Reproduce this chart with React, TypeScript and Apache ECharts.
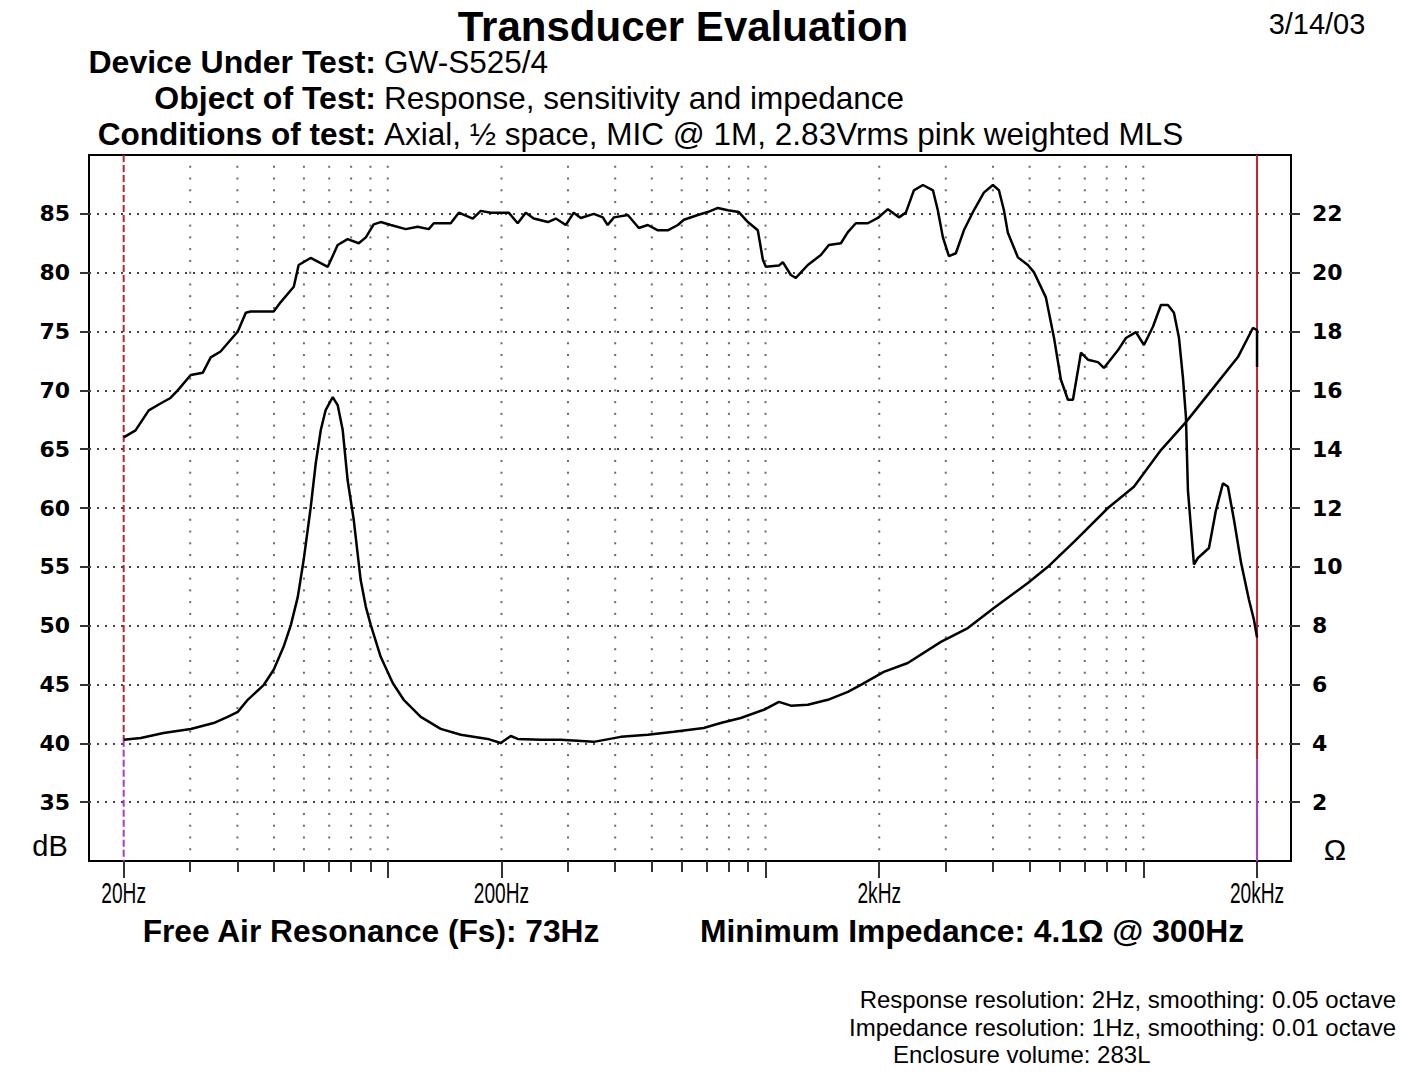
import React, { useEffect, useRef } from "react";
import * as echarts from "echarts";

// ---------- data ----------
const respFreq = [
  20, 21.5, 23.3, 25.1, 26.6, 27.8, 30.1, 32.4, 34.0, 36.1,
  37.7, 40.1, 42.1, 43.4, 49.9, 52.1, 56.4, 58.1, 62.5, 69.4,
  73.7, 78.3, 83.8, 87.5, 91.8, 95.8, 101.9, 111.6, 120, 128.4,
  132.4, 146.8, 154.2, 167.9, 176.3, 187.4, 209, 220.8, 231.9, 243.5,
  265.4, 278.6, 296, 310.8, 324.4, 351, 371, 382, 397, 432,
  462, 488, 519, 551, 586, 608, 662, 703, 748, 795,
  850, 898, 954, 984, 1002, 1085, 1111, 1167, 1203, 1294,
  1401, 1471, 1583, 1652, 1734, 1866, 1983, 2108, 2254, 2352,
  2470, 2610, 2774, 2858, 2948, 3058, 3190, 3350, 3560, 3784,
  3998, 4148, 4276, 4380, 4656, 4948, 5132, 5522, 5800, 6052,
  6316, 6512, 6838, 7136, 7584, 7866, 8566, 8996, 9560, 10038,
  10604, 11134, 11618, 12052, 12424, 12730, 12966, 13126, 13616, 13950,
  14920, 15570, 16248, 16752, 17376, 18132, 19038, 19626, 20000,
];
const respDb = [
  66.0, 66.6, 68.3, 68.9, 69.35, 70.0, 71.3, 71.5, 72.8, 73.3,
  74.0, 75.0, 76.6, 76.7, 76.7, 77.5, 78.8, 80.65, 81.25, 80.5,
  82.35, 82.85, 82.5, 83.0, 84.1, 84.3, 84.05, 83.7, 83.9, 83.7,
  84.2, 84.2, 85.1, 84.6, 85.25, 85.1, 85.1, 84.2, 85.1, 84.6,
  84.3, 84.6, 84.05, 85.1, 84.65, 85.0, 84.7, 84.05, 84.7, 84.9,
  83.8, 84.05, 83.6, 83.6, 84.05, 84.5, 84.9, 85.15, 85.5, 85.3,
  85.15, 84.3, 83.6, 81.1, 80.5, 80.6, 80.9, 79.8, 79.55, 80.65,
  81.5, 82.35, 82.5, 83.45, 84.2, 84.2, 84.65, 85.4, 84.7, 85.1,
  87.0, 87.45, 87.0, 85.3, 83.0, 81.4, 81.65, 83.6, 85.3, 86.8,
  87.45, 87.0, 85.3, 83.4, 81.3, 80.65, 80.05, 77.9, 74.5, 70.9,
  69.2, 69.2, 73.2, 72.6, 72.4, 71.9, 73.4, 74.45, 74.95, 73.85,
  75.4, 77.25, 77.25, 76.6, 74.5, 71.1, 67.75, 61.5, 55.2, 55.75,
  56.6, 59.8, 62.1, 61.8, 59.0, 55.4, 52.2, 50.5, 49.0,
];
const impFreq = [
  20, 22.2, 25.5, 30.1, 34.6, 37.7, 40.1, 42.6, 47.0, 49.9,
  53.0, 55.4, 57.8, 59.9, 62.5, 64.5, 66.5, 68.5, 71.5, 73.7,
  76.0, 78.3, 81.3, 84.8, 87.5, 90.2, 95.8, 103.1, 110.2, 122.3,
  138.1, 156.1, 183.9, 199.1, 211.7, 220.8, 254.2, 287, 351, 414,
  488, 572, 686, 761, 860, 990, 1085, 1167, 1294, 1462,
  1652, 1788, 2056, 2380, 2912, 3432, 4022, 4948, 5590, 6552,
  8060, 9444, 11134, 12966, 15378, 17802, 19504, 20000, 20000,
];
const impOhm = [
  4.12, 4.18, 4.35, 4.49, 4.69, 4.9, 5.07, 5.48, 5.99, 6.5,
  7.28, 8.02, 8.98, 10.23, 12.0, 13.53, 14.65, 15.33, 15.77, 15.5,
  14.65, 12.95, 11.59, 9.55, 8.64, 8.02, 6.94, 6.05, 5.48, 4.9,
  4.49, 4.29, 4.15, 4.01, 4.25, 4.15, 4.12, 4.12, 4.05, 4.22,
  4.29, 4.39, 4.52, 4.69, 4.86, 5.14, 5.41, 5.28, 5.31, 5.48,
  5.75, 5.99, 6.43, 6.73, 7.45, 7.92, 8.6, 9.45, 10.0, 10.85,
  12.0, 12.72, 13.97, 14.92, 16.11, 17.13, 18.12, 18.05, 16.79,
];

const gridFreqs = [
  30, 40, 50, 60, 70, 80, 90, 100,
  200, 300, 400, 500, 600, 700, 800, 900, 1000,
  2000, 3000, 4000, 5000, 6000, 7000, 8000, 9000, 10000,
];
const majorTickFreqs = [20, 100, 200, 1000, 2000, 10000, 20000];
const labelFreqs = [20, 200, 2000, 20000];
const freqLabels = ["20Hz", "200Hz", "2kHz", "20kHz"];
const dbTicks = [35, 40, 45, 50, 55, 60, 65, 70, 75, 80, 85];
const ohmTicks = [2, 4, 6, 8, 10, 12, 14, 16, 18, 20, 22];
const markerFreqs = [20, 20000];
const markerSplitDb = [40.3, 38.6];

// axis extents (frequency range of the plot frame, dB and ohm ranges)
const F_MIN = 16.19;
const F_MAX = 24600;
const DB_MIN = 30;
const DB_MAX = 90;
const OHM_MIN = 0;
const OHM_MAX = 24;

const L = (f: number) => Math.log10(f);

const SANS = '"Liberation Sans", Arial, Helvetica, sans-serif';
const WIDE = '"DejaVu Sans", Verdana, sans-serif';

function txt(
  t: string,
  x: number,
  y: number,
  size: number,
  weight: string,
  align: string,
  extra: any = {}
) {
  return {
    type: "text",
    x,
    y,
    silent: true,
    ...extra,
    style: {
      text: t,
      fill: "#000",
      fontSize: size,
      fontWeight: weight,
      fontFamily: SANS,
      textAlign: align,
      textVerticalAlign: "middle",
      verticalAlign: "middle",
    },
  };
}

export default function App() {
  const ref = useRef<HTMLDivElement>(null);

  useEffect(() => {
    document.body.style.margin = "0";
    if (!ref.current) return;
    const chart = echarts.init(ref.current, undefined, { renderer: "svg" });

    const minorTickFreqs = gridFreqs.filter((f) => !majorTickFreqs.includes(f));

    const dots: number[][] = [];
    gridFreqs.forEach((f) => {
      for (let d = DB_MIN + 1; d < DB_MAX; d++) {
        dots.push([L(f), d]);
      }
    });

    const markerSeries: any[] = [];
    markerFreqs.forEach((f, i) => {
      const dashed = i === 0;
      markerSeries.push({
        type: "line",
        xAxisIndex: 0,
        yAxisIndex: 0,
        silent: true,
        showSymbol: false,
        data: [
          [L(f), DB_MAX],
          [L(f), markerSplitDb[i]],
        ],
        lineStyle: { color: "#c0242c", width: 2, type: dashed ? [7, 3] : "solid" },
        z: 3,
      });
      markerSeries.push({
        type: "line",
        xAxisIndex: 0,
        yAxisIndex: 0,
        silent: true,
        showSymbol: false,
        data: [
          [L(f), markerSplitDb[i]],
          [L(f), DB_MIN],
        ],
        lineStyle: { color: "#a63cc8", width: 2, type: dashed ? [7, 3] : "solid" },
        z: 3,
      });
    });

    const baseGraphics: any[] = [
      txt("Transducer Evaluation", 683, 26, 42, "bold", "center"),
      txt("3/14/03", 1317, 24, 29, "normal", "center"),
      txt("Device Under Test:", 376, 62, 32, "bold", "right"),
      txt("GW-S525/4", 384, 62, 31.5, "normal", "left"),
      txt("Object of Test:", 376, 98, 32, "bold", "right"),
      txt("Response, sensitivity and impedance", 384, 98, 31.5, "normal", "left"),
      txt("Conditions of test:", 376, 134, 31.5, "bold", "right"),
      txt("Axial, ½ space, MIC @ 1M, 2.83Vrms pink weighted MLS", 384, 134, 31.5, "normal", "left"),
      txt("dB", 50, 846, 29, "normal", "center"),
      txt("Ω", 1335, 849, 30, "normal", "center"),
      txt("Free Air Resonance (Fs): 73Hz", 371, 931, 31.7, "bold", "center"),
      txt("Minimum Impedance: 4.1Ω @ 300Hz", 972, 931, 31.8, "bold", "center"),
      txt("Response resolution: 2Hz, smoothing: 0.05 octave", 1396, 999, 24, "normal", "right"),
      txt("Impedance resolution: 1Hz, smoothing: 0.01 octave", 1396, 1027, 24, "normal", "right"),
      txt("Enclosure volume: 283L", 893, 1054, 24, "normal", "left"),
    ];

    const option: any = {
      animation: false,
      backgroundColor: "#ffffff",
      grid: {
        left: 89,
        top: 155,
        width: 1202,
        height: 706,
        show: true,
        backgroundColor: "#ffffff",
        borderColor: "#000000",
        borderWidth: 2,
        containLabel: false,
        outerBoundsMode: "none",
      },
      xAxis: [
        {
          type: "value",
          position: "bottom",
          min: L(F_MIN),
          max: L(F_MAX),
          axisLine: { show: false },
          splitLine: { show: false },
          axisTick: {
            show: true,
            customValues: majorTickFreqs.map(L),
            length: 17,
            lineStyle: { color: "#333", width: 2 },
          },
          axisLabel: { show: false },
        },
        {
          type: "value",
          position: "bottom",
          min: L(F_MIN),
          max: L(F_MAX),
          axisLine: { show: false },
          splitLine: { show: false },
          axisTick: {
            show: true,
            customValues: minorTickFreqs.map(L),
            length: 11,
            lineStyle: { color: "#333", width: 2 },
          },
          axisLabel: { show: false },
        },
      ],
      yAxis: [
        {
          type: "value",
          position: "left",
          min: DB_MIN,
          max: DB_MAX,
          interval: 5,
          axisLine: { show: false },
          axisTick: {
            show: true,
            customValues: dbTicks,
            length: 9,
            lineStyle: { color: "#333", width: 2 },
          },
          axisLabel: {
            customValues: dbTicks,
            margin: 19,
            color: "#000",
            fontFamily: WIDE,
            fontWeight: "bold",
            fontSize: 22,
          },
          splitLine: {
            show: true,
            lineStyle: { color: "#444", width: 2, type: [2, 6] },
          },
        },
        {
          type: "value",
          position: "right",
          min: OHM_MIN,
          max: OHM_MAX,
          interval: 2,
          axisLine: { show: false },
          axisTick: {
            show: true,
            customValues: ohmTicks,
            length: 9,
            lineStyle: { color: "#333", width: 2 },
          },
          axisLabel: {
            customValues: ohmTicks,
            margin: 21,
            color: "#000",
            fontFamily: WIDE,
            fontWeight: "bold",
            fontSize: 22,
          },
          splitLine: { show: false },
        },
      ],
      series: [
        {
          type: "scatter",
          xAxisIndex: 0,
          yAxisIndex: 0,
          silent: true,
          symbol: "rect",
          symbolSize: 2,
          itemStyle: { color: "#444" },
          data: dots,
          z: 1,
        },
        ...markerSeries,
        {
          name: "Impedance",
          type: "line",
          xAxisIndex: 0,
          yAxisIndex: 1,
          showSymbol: false,
          silent: true,
          data: impFreq.map((f, i) => [L(f), impOhm[i]]),
          lineStyle: { color: "#000", width: 2.5 },
          z: 4,
        },
        {
          name: "Response",
          type: "line",
          xAxisIndex: 0,
          yAxisIndex: 0,
          showSymbol: false,
          silent: true,
          data: respFreq.map((f, i) => [L(f), respDb[i]]),
          lineStyle: { color: "#000", width: 2.5 },
          z: 4,
        },
      ],
      graphic: baseGraphics,
    };

    chart.setOption(option);

    // frequency tick labels, placed through the x axis scale, drawn in a condensed face
    const labelGraphics = labelFreqs.map((f, i) => {
      const px = chart.convertToPixel({ xAxisIndex: 0 }, L(f)) as number;
      return txt(freqLabels[i], px, 893, 29, "normal", "center", { scaleX: 0.66 });
    });
    chart.setOption({ graphic: [...baseGraphics, ...labelGraphics] });

    return () => {
      chart.dispose();
    };
  }, []);

  return <div ref={ref} style={{ width: "1403px", height: "1076px" }} />;
}
